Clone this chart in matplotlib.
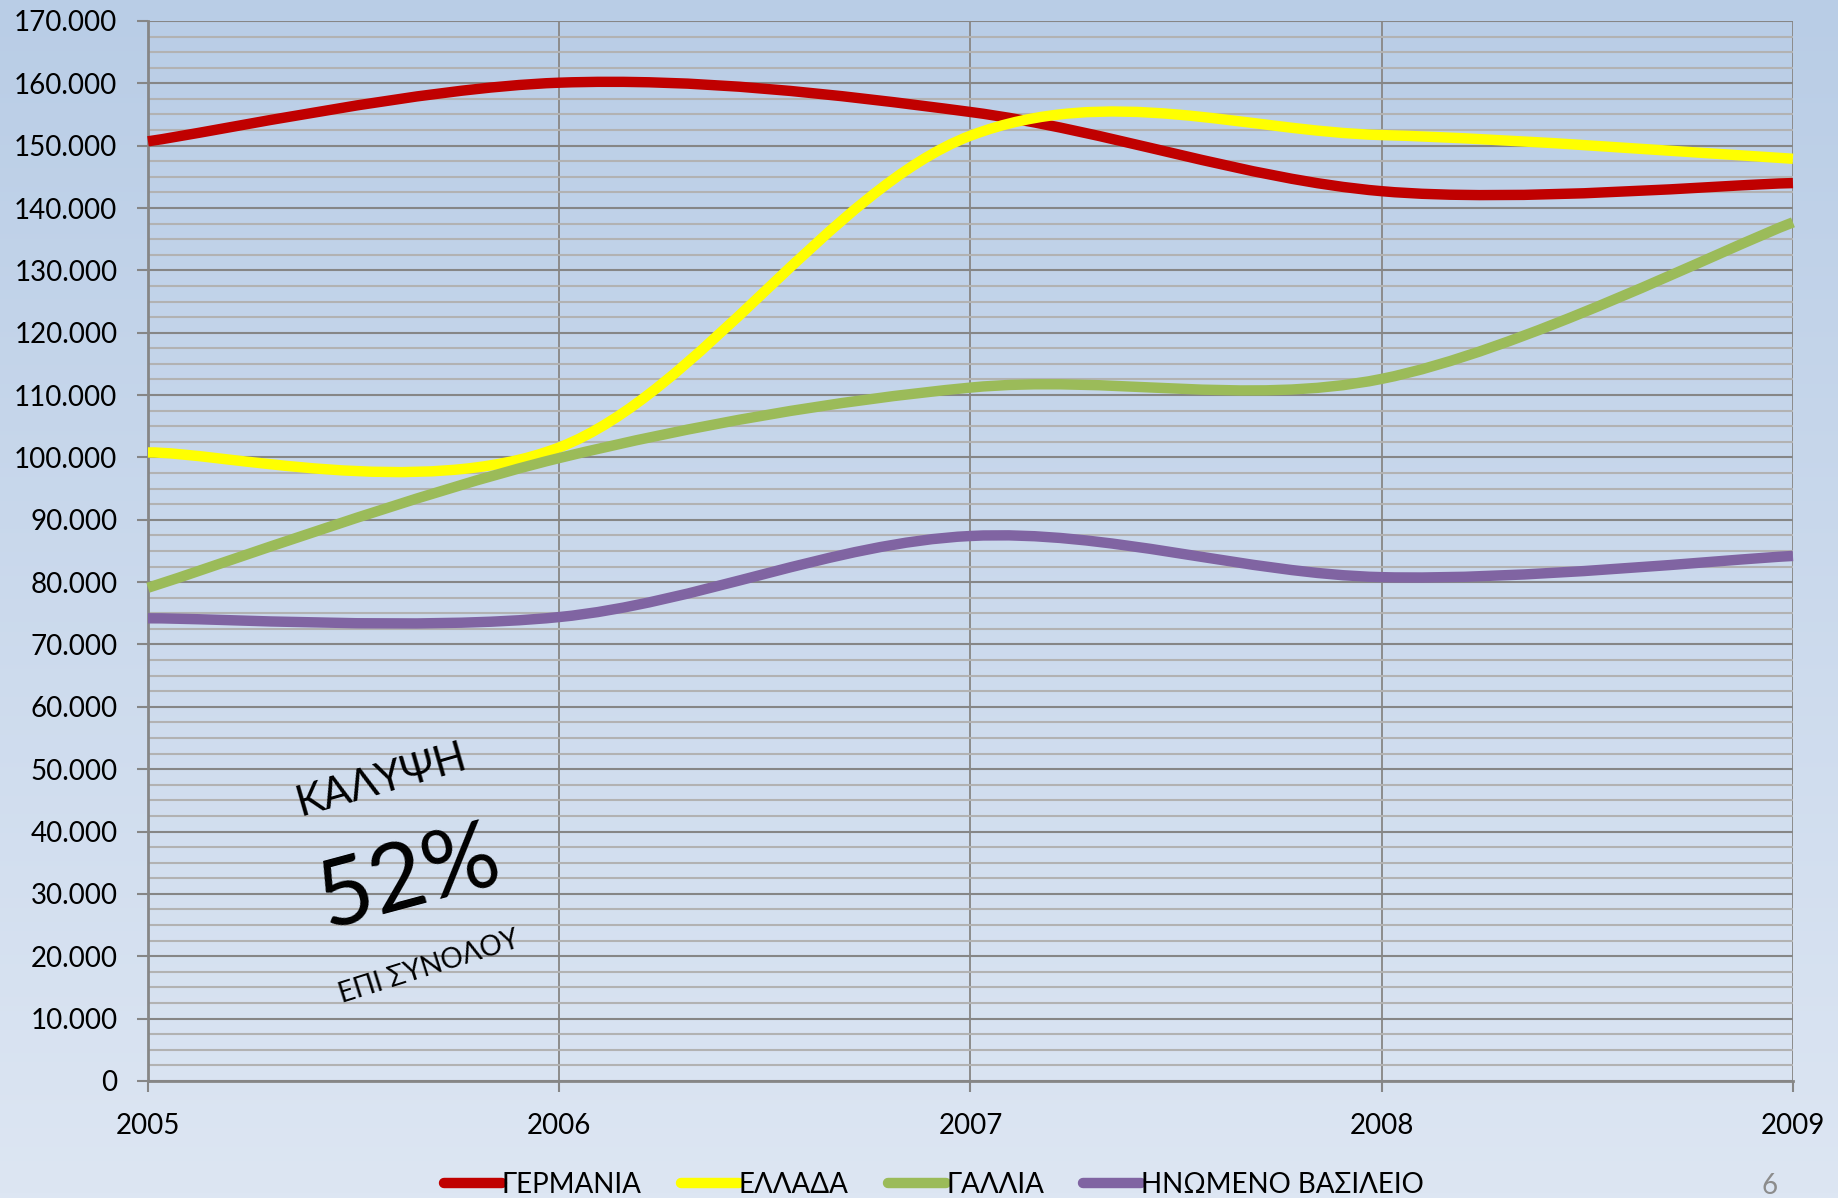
import matplotlib
matplotlib.use("Agg")
import matplotlib.pyplot as plt
import numpy as np
from matplotlib.path import Path
from matplotlib.patches import PathPatch
from matplotlib.lines import Line2D
from matplotlib.ticker import MultipleLocator, FuncFormatter
from matplotlib.colors import LinearSegmentedColormap

plt.rcParams['font.family'] = ['Lato', 'Noto Sans', 'DejaVu Sans']

# Data
years = [2005, 2006, 2007, 2008, 2009]
germany = [150700, 160100, 155400, 142700, 144000]
greece = [100800, 101600, 151600, 151700, 147900]
france = [79100, 99900, 111200, 112600, 137700]
uk = [74200, 74400, 87400, 80800, 84200]

series_names = ['ΓΕΡΜΑΝΙΑ', 'ΕΛΛΑΔΑ', 'ΓΑΛΛΙΑ', 'ΗΝΩΜΕΝΟ ΒΑΣΙΛΕΙΟ']
series_values = [germany, greece, france, uk]
series_colors = ['#C00000', '#FFFF00', '#9BBB59', '#8064A2']


def smooth_path(x, y):
    # Excel-style smoothed line: cubic Bezier segments (Catmull-Rom control points)
    verts = [(x[0], y[0])]
    codes = [Path.MOVETO]
    n = len(x)
    for i in range(n - 1):
        xp, yp = (x[i - 1], y[i - 1]) if i > 0 else (x[i], y[i])
        xn, yn = (x[i + 2], y[i + 2]) if i + 2 < n else (x[i + 1], y[i + 1])
        c1 = (x[i] + (x[i + 1] - xp) / 6, y[i] + (y[i + 1] - yp) / 6)
        c2 = (x[i + 1] - (xn - x[i]) / 6, y[i + 1] - (yn - y[i]) / 6)
        verts += [c1, c2, (x[i + 1], y[i + 1])]
        codes += [Path.CURVE4] * 3
    return Path(verts, codes)


fig = plt.figure(figsize=(18.38, 11.98), dpi=100)

# background gradient
bg = fig.add_axes([0, 0, 1, 1], zorder=-10)
cmap = LinearSegmentedColormap.from_list('bg', ['#B9CDE6', '#DDE6F3'])
bg.imshow(np.linspace(0, 1, 256).reshape(-1, 1), aspect='auto', cmap=cmap,
          extent=[0, 1, 0, 1])
bg.axis('off')

ax = fig.add_axes([0.0805, 0.0977, 0.8950, 0.8848])
ax.set_facecolor('none')
ax.set_xlim(2005, 2009)
ax.set_ylim(0, 170000)

ax.yaxis.set_major_locator(MultipleLocator(10000))
ax.yaxis.set_minor_locator(MultipleLocator(2500))
ax.xaxis.set_major_locator(MultipleLocator(1))
ax.yaxis.set_major_formatter(FuncFormatter(lambda v, p: f"{int(v):,}".replace(",", ".")))
ax.xaxis.set_major_formatter(FuncFormatter(lambda v, p: f"{int(v)}"))

ax.grid(True, which='minor', axis='y', color='#B2B2B2', lw=1.5, zorder=1)
ax.grid(True, which='major', axis='y', color='#868686', lw=1.5, zorder=2)
ax.grid(True, which='major', axis='x', color='#8C8C8C', lw=1.4, zorder=2)

for s in ['top', 'right']:
    ax.spines[s].set_visible(False)
ax.spines['left'].set_color('#868686')
ax.spines['left'].set_linewidth(2)
ax.spines['bottom'].set_color('#868686')
ax.spines['bottom'].set_linewidth(2)

ax.tick_params(axis='y', which='major', length=8, width=1.5, color='#868686',
               labelsize=20, pad=14)
ax.tick_params(axis='y', which='minor', length=0)
ax.tick_params(axis='x', which='major', length=8, width=1.5, color='#868686',
               labelsize=20, pad=15)

for vals, color in zip(series_values, series_colors):
    patch = PathPatch(smooth_path(years, vals), facecolor='none', edgecolor=color,
                      lw=7.5, capstyle='butt', joinstyle='round', zorder=5,
                      clip_on=False)
    ax.add_patch(patch)

# rotated annotation
fig.text(0.2075, 0.349, 'ΚΑΛΥΨΗ', fontsize=30, rotation=16,
         ha='center', va='center')
fig.text(0.2225, 0.266, '52%', fontsize=68, rotation=15,
         ha='center', va='center')
fig.text(0.2334, 0.193, 'ΕΠΙ ΣΥΝΟΛΟΥ', fontsize=20, rotation=17.5,
         ha='center', va='center')

# legend
handles = [Line2D([0], [0], color=c, lw=7.5, solid_capstyle='round') for c in series_colors]
fig.legend(handles, series_names, loc='center', bbox_to_anchor=(0.508, 0.0110),
           ncol=4, frameon=False, fontsize=20, handlelength=2.1, handletextpad=0.0,
           columnspacing=1.4, borderpad=0)

# slide number
fig.text(0.9625, 0.010, '6', fontsize=20, color='#8C8C8C', ha='center', va='center')

fig.savefig('out.png', dpi=100)
